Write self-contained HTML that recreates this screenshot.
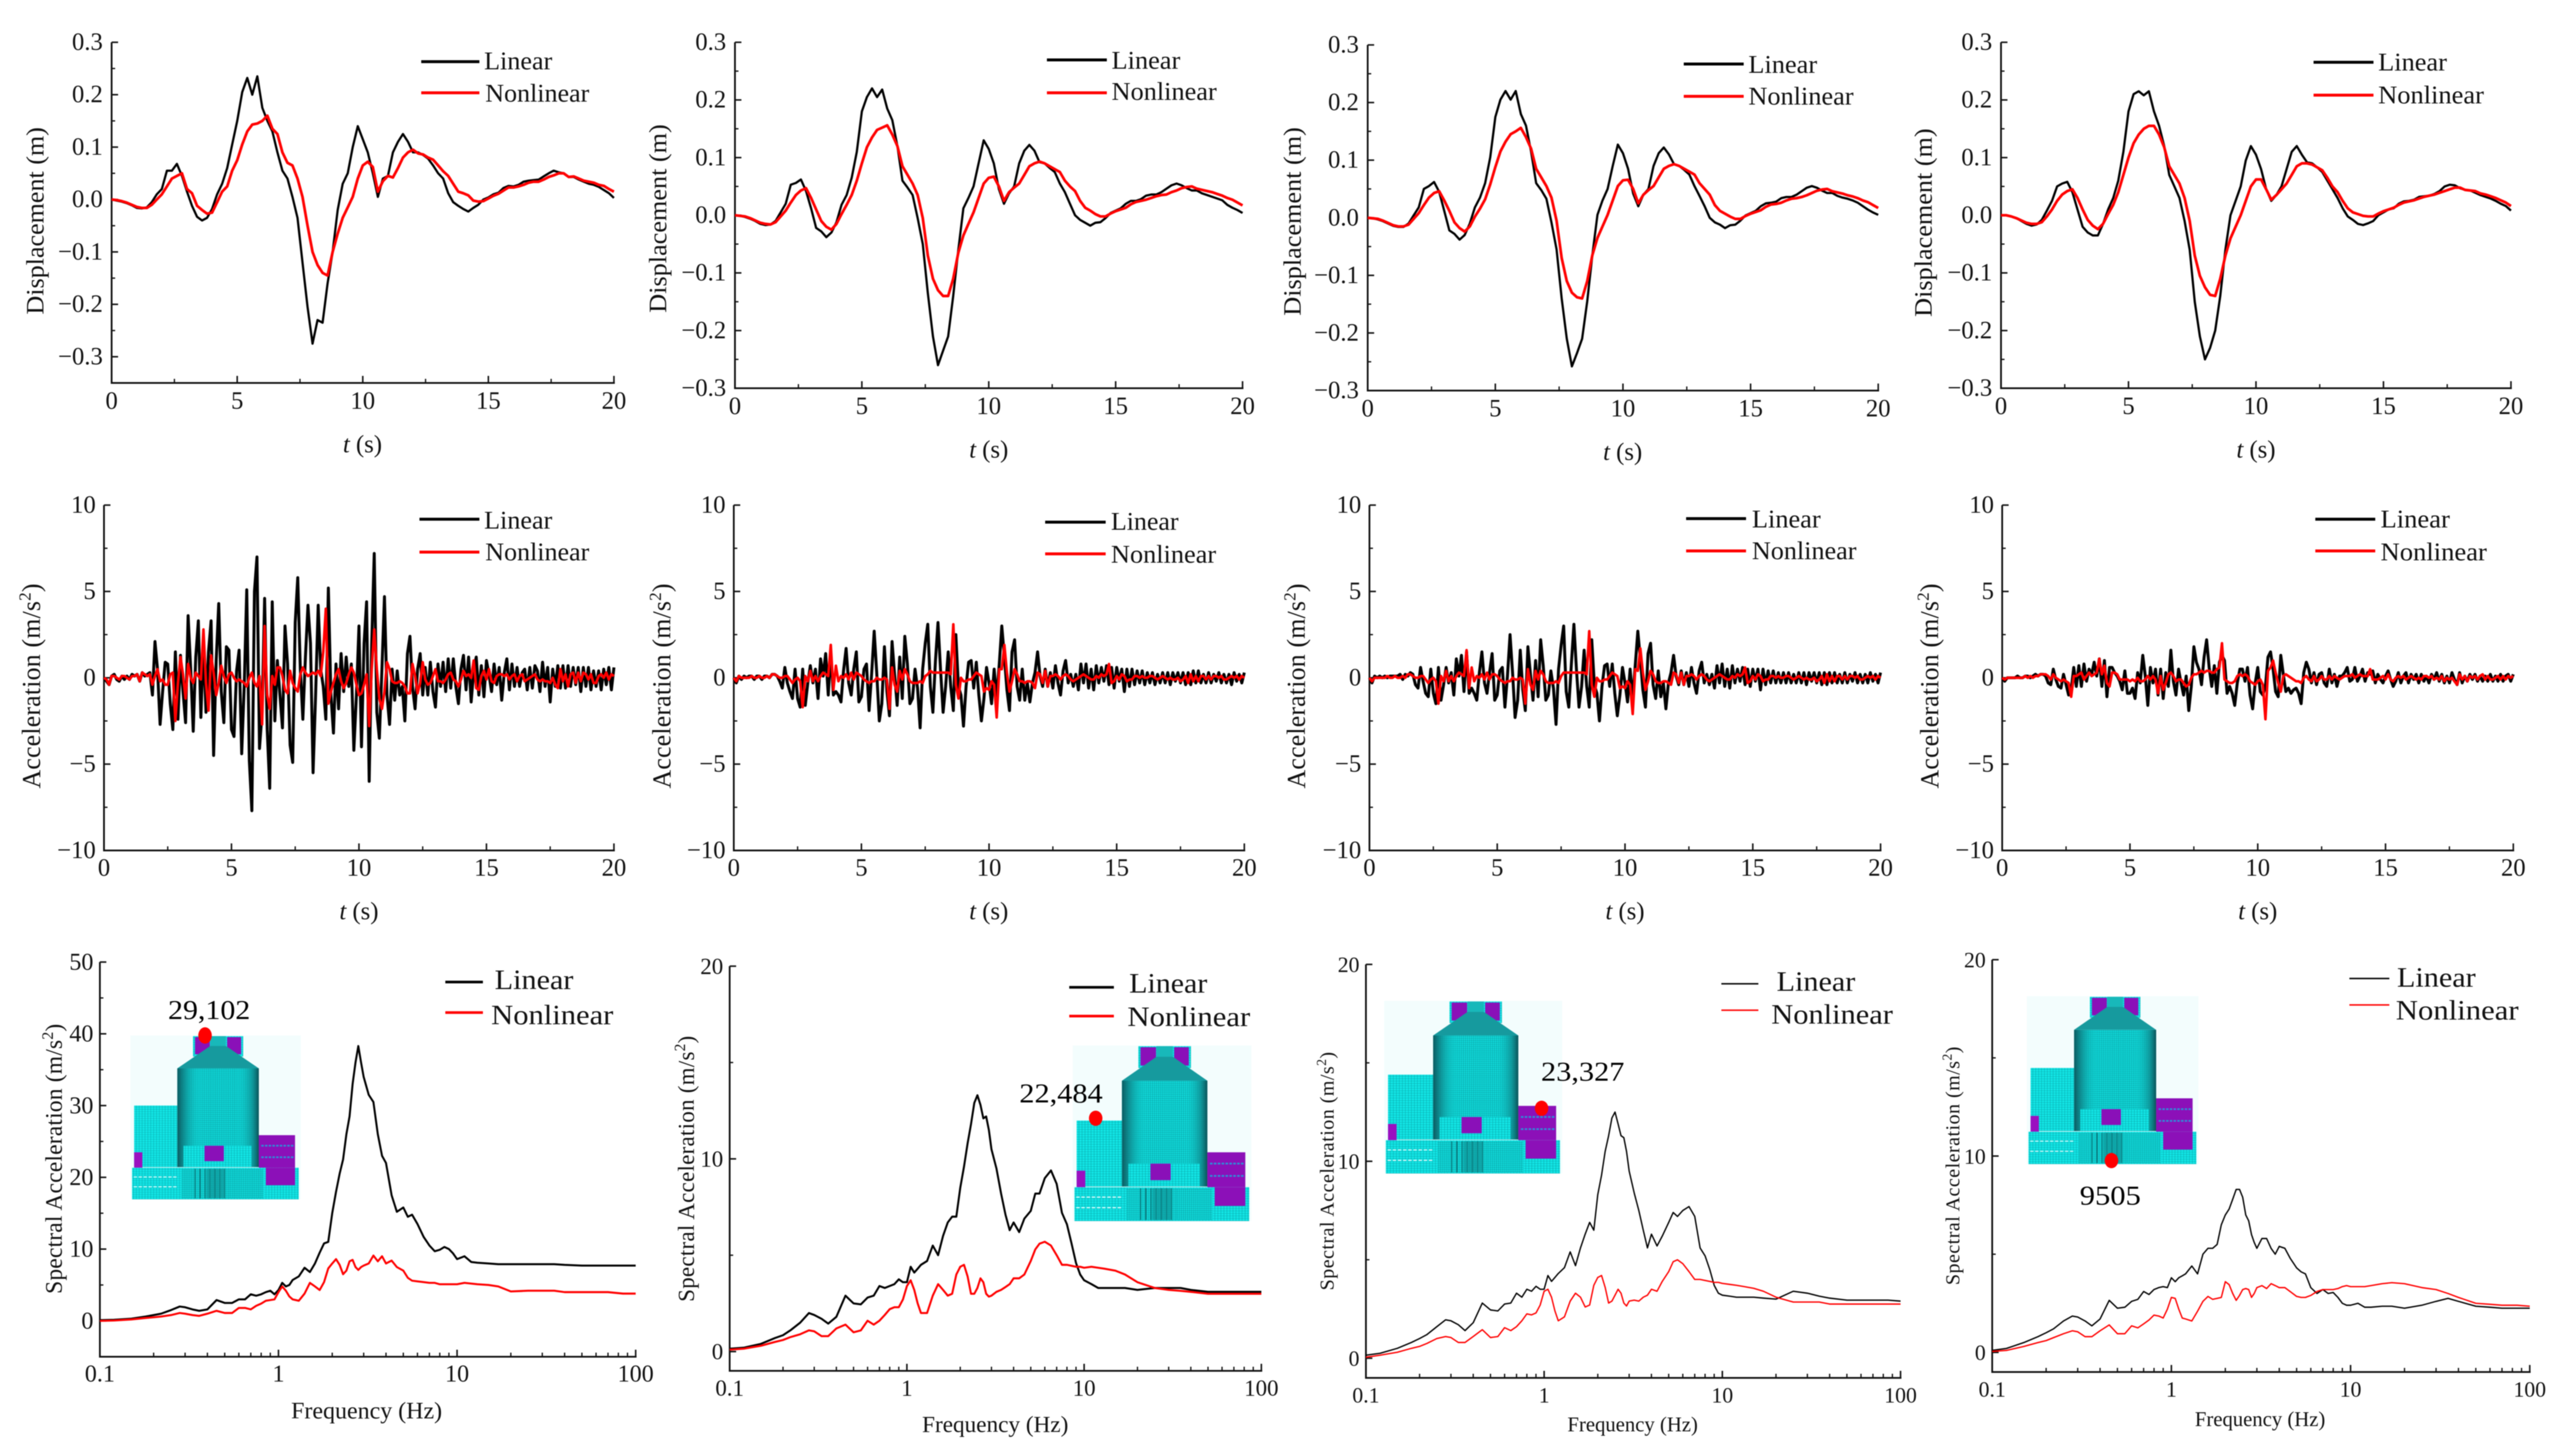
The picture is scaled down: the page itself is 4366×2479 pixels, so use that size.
<!DOCTYPE html>
<html lang="en">
<head>
<meta charset="utf-8">
<title>Linear and nonlinear seismic response comparison</title>
<style>
html,body{margin:0;padding:0;background:#fff;}
svg{display:block;filter:blur(0.8px);}
text{font-family:"Liberation Serif",serif;fill:#111;}
.lg{font-size:43px;}
.yt{font-size:42px;}
.xt{font-size:42px;text-anchor:middle;}
.ann{font-size:47px;text-anchor:middle;fill:#000;}
</style>
</head>
<body>
<svg id="figure" xmlns="http://www.w3.org/2000/svg" width="4366" height="2479" viewBox="0 0 4366 2479">
<defs>
  <pattern id="mesh" width="7" height="7" patternUnits="userSpaceOnUse">
    <rect width="7" height="7" fill="#12e6e6"/>
    <path d="M0 0H7M0 0V7" stroke="#079a9e" stroke-width="1.5"/>
  </pattern>
  <pattern id="meshFine" width="4.5" height="6" patternUnits="userSpaceOnUse">
    <rect width="4.5" height="6" fill="#10dede"/>
    <path d="M0 0H4.5M0 0V6" stroke="#07797e" stroke-width="1.3"/>
  </pattern>
  <linearGradient id="towerShade" x1="0" x2="1" y1="0" y2="0">
    <stop offset="0" stop-color="#0a5a60"/>
    <stop offset="0.1" stop-color="#0e8a8e" stop-opacity=".75"/>
    <stop offset="0.3" stop-color="#10dada" stop-opacity="0"/>
    <stop offset="0.72" stop-color="#10dada" stop-opacity="0"/>
    <stop offset="0.92" stop-color="#0e8a8e" stop-opacity=".75"/>
    <stop offset="1" stop-color="#0a5258"/>
  </linearGradient>
  <pattern id="stripes" width="12" height="10" patternUnits="userSpaceOnUse">
    <rect width="12" height="10" fill="none"/>
    <path d="M1 0V10" stroke="#087074" stroke-width="3"/>
  </pattern>
  <symbol id="structure" viewBox="0 0 414 498" preserveAspectRatio="none">
    <rect width="414" height="498" fill="#f3fdfd"/>
    <rect x="152" y="2" width="122" height="62" fill="url(#mesh)"/>
    <rect x="157" y="5" width="36" height="52" fill="#8a10b8"/>
    <rect x="235" y="5" width="34" height="52" fill="#8a10b8"/>
    <rect x="194" y="2" width="38" height="32" fill="#18b8ba"/>
    <polygon points="114,100 194,32 232,32 312,100" fill="#169a9e"/>
    <rect x="114" y="100" width="198" height="300" fill="url(#meshFine)"/>
    <rect x="114" y="100" width="198" height="300" fill="url(#towerShade)"/>
    <rect x="9" y="213" width="105" height="187" fill="url(#mesh)"/>
    <rect x="9" y="355" width="20" height="47" fill="#9a10c0"/>
    <rect x="312" y="303" width="88" height="99" fill="#8c10b8"/>
    <path d="M318 335H396M318 370H396" stroke="#2c8fd8" stroke-width="5" stroke-dasharray="6 3"/>
    <rect x="129" y="335" width="165" height="65" fill="url(#mesh)"/>
    <rect x="180" y="335" width="47" height="47" fill="#8a10b8"/>
    <rect x="4" y="402" width="405" height="96" fill="url(#mesh)"/>
    <rect x="329" y="402" width="71" height="53" fill="#8c10b8"/>
    <rect x="124" y="405" width="200" height="90" fill="url(#meshFine)"/>
    <rect x="150" y="405" width="90" height="90" fill="url(#stripes)"/>
    <rect x="185" y="405" width="45" height="90" fill="#0e8f92" opacity=".6"/>
    <path d="M8 430H114M8 460H114" stroke="#e8ffff" stroke-width="3" stroke-dasharray="8 4"/>
  </symbol>
</defs>
<rect width="4366" height="2479" fill="#fff"/>

<!-- Row 1 -->
<g id="panel-r1c1">
  <text class="yt" transform="translate(74,376) rotate(-90)" text-anchor="middle" textLength="319" lengthAdjust="spacingAndGlyphs">Displacement (m)</text>
  <text class="xt" x="617" y="770"><tspan font-style="italic">t</tspan> (s)</text>
  <line x1="717" x2="816" y1="105" y2="105" stroke="#000" stroke-width="5"/>
  <line x1="717" x2="816" y1="158" y2="158" stroke="#f00" stroke-width="5"/>
  <text class="lg" x="824" y="118" textLength="116" lengthAdjust="spacingAndGlyphs">Linear</text>
  <text class="lg" x="826" y="173" textLength="177" lengthAdjust="spacingAndGlyphs">Nonlinear</text>
</g>
<g id="panel-r1c2">
  <text class="yt" transform="translate(1134,372) rotate(-90)" text-anchor="middle" textLength="321" lengthAdjust="spacingAndGlyphs">Displacement (m)</text>
  <text class="xt" x="1683" y="779"><tspan font-style="italic">t</tspan> (s)</text>
  <line x1="1782" x2="1884" y1="102" y2="102" stroke="#000" stroke-width="5"/>
  <line x1="1782" x2="1884" y1="158" y2="158" stroke="#f00" stroke-width="5"/>
  <text class="lg" x="1892" y="117" textLength="117" lengthAdjust="spacingAndGlyphs">Linear</text>
  <text class="lg" x="1892" y="170" textLength="179" lengthAdjust="spacingAndGlyphs">Nonlinear</text>
</g>
<g id="panel-r1c3">
  <text class="yt" transform="translate(2214,377) rotate(-90)" text-anchor="middle" textLength="321" lengthAdjust="spacingAndGlyphs">Displacement (m)</text>
  <text class="xt" x="2762" y="783"><tspan font-style="italic">t</tspan> (s)</text>
  <line x1="2866" x2="2968" y1="109" y2="109" stroke="#000" stroke-width="5"/>
  <line x1="2866" x2="2968" y1="164" y2="164" stroke="#f00" stroke-width="5"/>
  <text class="lg" x="2976" y="124" textLength="117" lengthAdjust="spacingAndGlyphs">Linear</text>
  <text class="lg" x="2976" y="178" textLength="179" lengthAdjust="spacingAndGlyphs">Nonlinear</text>
</g>
<g id="panel-r1c4">
  <text class="yt" transform="translate(3288,379) rotate(-90)" text-anchor="middle" textLength="321" lengthAdjust="spacingAndGlyphs">Displacement (m)</text>
  <text class="xt" x="3840" y="779"><tspan font-style="italic">t</tspan> (s)</text>
  <line x1="3938" x2="4040" y1="106" y2="106" stroke="#000" stroke-width="5"/>
  <line x1="3938" x2="4040" y1="162" y2="162" stroke="#f00" stroke-width="5"/>
  <text class="lg" x="4048" y="120" textLength="117" lengthAdjust="spacingAndGlyphs">Linear</text>
  <text class="lg" x="4048" y="176" textLength="180" lengthAdjust="spacingAndGlyphs">Nonlinear</text>
</g>

<!-- Row 2 -->
<g id="panel-r2c1">
  <text class="yt" transform="translate(68,1168) rotate(-90)" text-anchor="middle" textLength="349" lengthAdjust="spacing" style="font-size:44px">Acceleration (m/s<tspan font-size="29" dy="-16">2</tspan><tspan dy="16">)</tspan></text>
  <text class="xt" x="611" y="1565"><tspan font-style="italic">t</tspan> (s)</text>
  <line x1="714" x2="816" y1="884" y2="884" stroke="#000" stroke-width="5"/>
  <line x1="714" x2="816" y1="940" y2="940" stroke="#f00" stroke-width="5"/>
  <text class="lg" x="824" y="900" textLength="116" lengthAdjust="spacingAndGlyphs">Linear</text>
  <text class="lg" x="826" y="954" textLength="177" lengthAdjust="spacingAndGlyphs">Nonlinear</text>
</g>
<g id="panel-r2c2">
  <text class="yt" transform="translate(1141,1168) rotate(-90)" text-anchor="middle" textLength="349" lengthAdjust="spacing" style="font-size:44px">Acceleration (m/s<tspan font-size="29" dy="-16">2</tspan><tspan dy="16">)</tspan></text>
  <text class="xt" x="1683" y="1565"><tspan font-style="italic">t</tspan> (s)</text>
  <line x1="1779" x2="1882" y1="889" y2="889" stroke="#000" stroke-width="5"/>
  <line x1="1779" x2="1882" y1="943" y2="943" stroke="#f00" stroke-width="5"/>
  <text class="lg" x="1891" y="902" textLength="115" lengthAdjust="spacingAndGlyphs">Linear</text>
  <text class="lg" x="1891" y="958" textLength="179" lengthAdjust="spacingAndGlyphs">Nonlinear</text>
</g>
<g id="panel-r2c3">
  <text class="yt" transform="translate(2221,1168) rotate(-90)" text-anchor="middle" textLength="349" lengthAdjust="spacing" style="font-size:44px">Acceleration (m/s<tspan font-size="29" dy="-16">2</tspan><tspan dy="16">)</tspan></text>
  <text class="xt" x="2766" y="1565"><tspan font-style="italic">t</tspan> (s)</text>
  <line x1="2870" x2="2972" y1="883" y2="883" stroke="#000" stroke-width="5"/>
  <line x1="2870" x2="2972" y1="938" y2="938" stroke="#f00" stroke-width="5"/>
  <text class="lg" x="2982" y="898" textLength="117" lengthAdjust="spacingAndGlyphs">Linear</text>
  <text class="lg" x="2982" y="952" textLength="178" lengthAdjust="spacingAndGlyphs">Nonlinear</text>
</g>
<g id="panel-r2c4">
  <text class="yt" transform="translate(3299,1168) rotate(-90)" text-anchor="middle" textLength="349" lengthAdjust="spacing" style="font-size:44px">Acceleration (m/s<tspan font-size="29" dy="-16">2</tspan><tspan dy="16">)</tspan></text>
  <text class="xt" x="3843" y="1565"><tspan font-style="italic">t</tspan> (s)</text>
  <line x1="3941" x2="4043" y1="884" y2="884" stroke="#000" stroke-width="5"/>
  <line x1="3941" x2="4043" y1="938" y2="938" stroke="#f00" stroke-width="5"/>
  <text class="lg" x="4052" y="898" textLength="118" lengthAdjust="spacingAndGlyphs">Linear</text>
  <text class="lg" x="4052" y="954" textLength="181" lengthAdjust="spacingAndGlyphs">Nonlinear</text>
</g>

<!-- Row 3 -->
<g id="panel-r3c1">
  <text font-size="40" transform="translate(105,1973) rotate(-90)" text-anchor="middle" textLength="460" lengthAdjust="spacing">Spectral Acceleration (m/s<tspan font-size="27" dy="-15">2</tspan><tspan dy="15">)</tspan></text>
  <text class="xt" font-size="40" x="624" y="2415" textLength="257" lengthAdjust="spacingAndGlyphs" style="font-size:40px">Frequency (Hz)</text>
  <line x1="758" x2="822" y1="1672" y2="1672" stroke="#000" stroke-width="4.5"/>
  <line x1="758" x2="822" y1="1724" y2="1724" stroke="#f00" stroke-width="4.5"/>
  <text font-size="48" x="842" y="1684" textLength="134" lengthAdjust="spacingAndGlyphs">Linear</text>
  <text font-size="48" x="836" y="1744" textLength="208" lengthAdjust="spacingAndGlyphs">Nonlinear</text>
  <use href="#structure" x="222" y="1763" width="290" height="279"/>
  <text class="ann" x="356" y="1735" textLength="140" lengthAdjust="spacingAndGlyphs">29,102</text>
  <ellipse cx="349" cy="1763" rx="11.5" ry="14" fill="#f00"/>
</g>
<g id="panel-r3c2">
  <text font-size="39" transform="translate(1181,1990) rotate(-90)" text-anchor="middle" textLength="453" lengthAdjust="spacing">Spectral Acceleration (m/s<tspan font-size="26" dy="-15">2</tspan><tspan dy="15">)</tspan></text>
  <text class="xt" x="1694" y="2438" textLength="249" lengthAdjust="spacingAndGlyphs" style="font-size:39px">Frequency (Hz)</text>
  <line x1="1820" x2="1896" y1="1681" y2="1681" stroke="#000" stroke-width="4.5"/>
  <line x1="1820" x2="1896" y1="1730" y2="1730" stroke="#f00" stroke-width="4.5"/>
  <text font-size="48" x="1922" y="1690" textLength="133" lengthAdjust="spacingAndGlyphs">Linear</text>
  <text font-size="48" x="1919" y="1747" textLength="209" lengthAdjust="spacingAndGlyphs">Nonlinear</text>
  <use href="#structure" x="1826" y="1780" width="304" height="299"/>
  <text class="ann" x="1806" y="1877" textLength="142" lengthAdjust="spacingAndGlyphs">22,484</text>
  <ellipse cx="1865" cy="1904" rx="11.5" ry="13" fill="#f00"/>
</g>
<g id="panel-r3c3">
  <text font-size="34" transform="translate(2270,1994) rotate(-90)" text-anchor="middle" textLength="406" lengthAdjust="spacing">Spectral Acceleration (m/s<tspan font-size="23" dy="-13">2</tspan><tspan dy="13">)</tspan></text>
  <text class="xt" x="2779" y="2437" textLength="222" lengthAdjust="spacingAndGlyphs" style="font-size:36px">Frequency (Hz)</text>
  <line x1="2930" x2="2993" y1="1675" y2="1675" stroke="#000" stroke-width="2.5"/>
  <line x1="2930" x2="2993" y1="1720" y2="1720" stroke="#f00" stroke-width="2.5"/>
  <text font-size="48" x="3024" y="1687" textLength="134" lengthAdjust="spacingAndGlyphs">Linear</text>
  <text font-size="48" x="3015" y="1743" textLength="207" lengthAdjust="spacingAndGlyphs">Nonlinear</text>
  <use href="#structure" x="2356" y="1704" width="303" height="294"/>
  <text class="ann" x="2694" y="1840" textLength="142" lengthAdjust="spacingAndGlyphs">23,327</text>
  <ellipse cx="2624" cy="1887" rx="11.5" ry="13" fill="#f00"/>
</g>
<g id="panel-r3c4">
  <text font-size="34" transform="translate(3335,1985) rotate(-90)" text-anchor="middle" textLength="406" lengthAdjust="spacing">Spectral Acceleration (m/s<tspan font-size="23" dy="-13">2</tspan><tspan dy="13">)</tspan></text>
  <text class="xt" x="3847" y="2428" textLength="222" lengthAdjust="spacingAndGlyphs" style="font-size:36px">Frequency (Hz)</text>
  <line x1="3999" x2="4067" y1="1666" y2="1666" stroke="#000" stroke-width="2.5"/>
  <line x1="3999" x2="4067" y1="1711" y2="1711" stroke="#f00" stroke-width="2.5"/>
  <text font-size="48" x="4080" y="1680" textLength="134" lengthAdjust="spacingAndGlyphs">Linear</text>
  <text font-size="48" x="4078" y="1736" textLength="209" lengthAdjust="spacingAndGlyphs">Nonlinear</text>
  <use href="#structure" x="3450" y="1696" width="292" height="286"/>
  <text class="ann" x="3592" y="2051" textLength="104" lengthAdjust="spacingAndGlyphs">9505</text>
  <ellipse cx="3594" cy="1976" rx="11.5" ry="13" fill="#f00"/>
</g>
</svg>

<script>
// ---- Tick values and labels ----
const timeTicks = [0, 5, 10, 15, 20];
const timeTickLabels = ['0', '5', '10', '15', '20'];
const timeMinorTicks = [2.5, 7.5, 12.5, 17.5];
const dispTicks = [-0.3, -0.2, -0.1, 0, 0.1, 0.2, 0.3];
const dispTickLabels = ['\u22120.3', '\u22120.2', '\u22120.1', '0.0', '0.1', '0.2', '0.3'];
const dispMinorTicks = [-0.25, -0.15, -0.05, 0.05, 0.15, 0.25];
const accTicks = [-10, -5, 0, 5, 10];
const accTickLabels = ['\u221210', '\u22125', '0', '5', '10'];
const accMinorTicks = [-7.5, -2.5, 2.5, 7.5];
const specTicksWide = [0, 10, 20, 30, 40, 50];
const specTickLabelsWide = ['0', '10', '20', '30', '40', '50'];
const specMinorWide = [5, 15, 25, 35, 45];
const specTicks = [0, 10, 20];
const specTickLabels = ['0', '10', '20'];
const specMinor = [5, 15];
const freqTicks = [0.1, 1, 10, 100];
const freqTickLabels = ['0.1', '1', '10', '100'];
const freqMinorTicks = [0.2, 0.3, 0.4, 0.5, 0.6, 0.7, 0.8, 0.9, 2, 3, 4, 5, 6, 7, 8, 9, 20, 30, 40, 50, 60, 70, 80, 90];

// ---- Displacement (m), sampled every dispStep seconds, 10 samples per row ----
const dispStep = 0.2;
const disp1Linear = [
0,-.002,-.004,-.007,-.011,-.016,-.017,-.015,-.005,.01,
.02,.055,.055,.068,.045,.015,-.012,-.033,-.04,-.035,
-.018,.01,.03,.06,.105,.15,.205,.232,.2,.235,
.175,.15,.13,.09,.055,.04,.005,-.035,-.12,-.205,
-.275,-.23,-.235,-.16,-.1,-.02,.03,.05,.1,.14,
.115,.09,.05,.005,.04,.045,.09,.11,.125,.11,
.09,.09,.085,.078,.065,.05,.04,.012,-.005,-.012,
-.018,-.023,-.016,-.01,0,.004,.01,.013,.022,.026,
.025,.028,.034,.036,.037,.038,.044,.05,.055,.052,
.05,.043,.043,.038,.034,.03,.028,.024,.018,.012,
.003];
const disp1Nonlinear = [
0,-.001,-.003,-.006,-.01,-.014,-.016,-.016,-.01,0,
.01,.025,.04,.045,.05,.02,.012,-.012,-.02,-.027,
-.025,-.005,.015,.025,.055,.075,.105,.13,.143,.145,
.15,.16,.135,.125,.09,.07,.065,.04,.005,-.05,
-.1,-.125,-.14,-.145,-.1,-.065,-.035,-.015,.005,.04,
.065,.072,.062,.015,.035,.045,.042,.06,.08,.09,
.095,.088,.086,.08,.076,.065,.054,.045,.03,.015,
.012,.008,-.002,-.004,-.003,.002,.007,.011,.017,.023,
.023,.025,.028,.032,.034,.034,.038,.043,.046,.05,
.05,.043,.044,.04,.036,.034,.032,.028,.026,.02,
.015];
const disp2Linear = [
0,-.001,-.003,-.006,-.01,-.015,-.017,-.016,-.01,.005,
.02,.053,.056,.062,.042,.012,-.022,-.028,-.038,-.03,
-.012,.018,.035,.065,.11,.18,.205,.22,.205,.218,
.185,.165,.12,.06,.048,.035,-.005,-.05,-.135,-.21,
-.26,-.235,-.21,-.14,-.06,.012,.03,.05,.09,.13,
.115,.09,.045,.02,.038,.05,.09,.112,.122,.112,
.092,.09,.082,.075,.055,.04,.02,0,-.008,-.013,
-.018,-.013,-.012,-.005,.004,.008,.012,.02,.025,.025,
.028,.034,.036,.036,.04,.046,.052,.055,.052,.047,
.043,.043,.038,.035,.032,.029,.026,.018,.013,.009,
.004];
const disp2Nonlinear = [
0,-.001,-.002,-.005,-.009,-.013,-.015,-.016,-.012,-.002,
.008,.022,.035,.043,.047,.03,.01,-.01,-.02,-.025,
-.015,.002,.018,.035,.06,.09,.118,.135,.148,.152,
.156,.14,.12,.085,.07,.055,.035,-.005,-.07,-.11,
-.13,-.14,-.14,-.11,-.065,-.035,-.015,.005,.03,.055,
.065,.067,.05,.025,.04,.048,.055,.07,.085,.09,
.093,.09,.085,.08,.075,.06,.05,.042,.025,.013,
.008,.002,-.002,-.002,.003,.007,.01,.013,.019,.023,
.025,.027,.03,.033,.035,.036,.04,.043,.047,.049,
.05,.046,.044,.042,.04,.037,.034,.03,.027,.022,
.017];
const disp3Linear = [
0,-.001,-.003,-.006,-.01,-.014,-.016,-.016,-.01,.004,
.018,.05,.055,.062,.045,.012,-.022,-.028,-.038,-.03,
-.01,.018,.035,.06,.105,.175,.205,.22,.205,.22,
.18,.16,.115,.06,.048,.033,-.008,-.055,-.14,-.21,
-.258,-.235,-.21,-.145,-.065,.005,.03,.05,.09,.127,
.112,.085,.042,.02,.04,.05,.09,.112,.122,.11,
.093,.09,.083,.075,.055,.038,.02,0,-.008,-.012,
-.018,-.013,-.012,-.005,.004,.008,.012,.02,.025,.026,
.028,.034,.036,.036,.04,.046,.052,.055,.052,.047,
.043,.043,.038,.035,.033,.03,.026,.02,.014,.009,
.005];
const disp3Nonlinear = [
0,-.001,-.002,-.005,-.009,-.013,-.015,-.015,-.012,-.002,
.008,.022,.035,.043,.046,.03,.012,-.008,-.018,-.024,
-.015,.002,.016,.032,.058,.088,.115,.132,.145,.15,
.156,.14,.12,.085,.07,.055,.035,-.005,-.07,-.11,
-.13,-.138,-.14,-.11,-.065,-.035,-.015,.005,.03,.055,
.065,.066,.05,.025,.04,.048,.055,.07,.085,.09,
.093,.09,.085,.08,.075,.06,.05,.04,.022,.012,
.007,.002,-.002,-.002,.003,.007,.01,.013,.019,.023,
.024,.026,.03,.033,.034,.036,.039,.043,.047,.049,
.05,.046,.044,.042,.039,.037,.034,.03,.027,.022,
.017];
const disp4Linear = [
0,0,-.002,-.005,-.01,-.015,-.018,-.016,-.008,.008,
.025,.05,.055,.058,.04,.01,-.02,-.03,-.035,-.035,
-.015,.01,.03,.06,.11,.18,.21,.215,.208,.215,
.18,.155,.12,.07,.05,.03,-.01,-.06,-.15,-.21,
-.25,-.23,-.2,-.14,-.06,0,.025,.05,.095,.12,
.105,.08,.045,.025,.035,.05,.08,.11,.12,.105,
.092,.09,.083,.075,.06,.045,.03,.012,-.002,-.008,
-.015,-.017,-.014,-.01,0,.005,.01,.012,.02,.024,
.025,.027,.032,.033,.034,.037,.042,.05,.053,.052,
.047,.044,.043,.039,.035,.032,.029,.025,.02,.016,
.008];
const disp4Nonlinear = [
0,0,-.002,-.005,-.009,-.013,-.015,-.015,-.012,-.002,
.01,.025,.036,.042,.045,.03,.01,-.008,-.018,-.024,
-.015,.002,.018,.04,.07,.1,.125,.14,.15,.155,
.155,.14,.118,.085,.07,.055,.03,-.01,-.07,-.105,
-.125,-.138,-.14,-.11,-.07,-.04,-.02,0,.025,.05,
.062,.062,.045,.027,.035,.045,.055,.07,.085,.09,
.09,.088,.083,.078,.065,.05,.04,.025,.012,.005,
.002,-.001,-.002,-.002,.003,.007,.01,.013,.018,.022,
.024,.026,.029,.032,.034,.036,.039,.042,.045,.048,
.048,.044,.043,.042,.038,.036,.033,.03,.026,.022,
.016];

// ---- Acceleration (m/s2), sampled every accStep seconds, one row per second ----
const accStep = 0.1;
const acc1Linear = [
0,-.2,-.4,.1,.2,-.1,-.2,.1,-.1,.1,
-.1,.2,.1,.2,-.2,.3,.1,.2,.3,-1,
2.1,.5,-2.7,-.8,.9,.8,-1.5,-3,1.5,-2.4,
1.3,-.8,-2.6,3.6,.5,-3.1,1.2,3.3,-2.3,2,
-2,1.5,3.3,-4.5,1,4.3,-.8,-2.6,1.8,1.6,
-3,-3.4,.4,1.6,-4.4,-.5,5.1,-4.8,-7.7,5,
7,-4.1,-2,4.6,-3,-6.4,4.4,-2.5,1,-1,
-2.9,3,.8,-3.9,-4.9,3.2,5.8,.5,-2.4,1.2,
4.2,2,-5.5,-1,4.2,.5,-.5,-2.4,5.2,-1,
-3.2,.8,-1.8,1.4,-.8,1.2,-.5,.8,-4.2,-1,
3,-4,2,4.4,-6,2,7.2,-2,-3.5,.5,
4.7,-1,-2.7,.5,-1.3,.4,-1,-.5,-2.5,1.4,
2.4,-.5,-1.8,.5,1.4,-1,.6,-1,.9,-.8,
-1.7,.8,-.5,.9,-.8,1.1,-.6,1.1,-.5,-1.5,
.5,1.3,-.7,1.2,-1.4,.4,1.2,-1,.7,-1.1,
1,.2,-.8,.8,-.4,.6,-1.3,.3,1.1,-.7,
.8,-.5,.6,-.5,.3,.5,-.7,.6,-.6,.7,
.4,-.8,.9,-.5,.6,-1.4,.5,-.5,.7,-.6,
.7,-.6,.7,-.5,.6,-.4,.6,-.8,.6,-.5,
.6,-.7,.4,-.5,.4,-.7,.5,-.4,.6,-.7,
.6];
const acc1Nonlinear = [
0,-.1,-.4,.1,.1,0,-.1,.1,.1,0,
-.1,.1,.1,.2,-.2,.3,.2,.1,.2,-.4,
.1,.5,-.2,-.1,-.4,-.4,.2,.3,-2.5,-.3,
1.2,.2,-1.2,.8,0,-.3,.3,.1,-.1,2.8,
-.3,-1.9,1.3,.3,-1,-.3,.7,.1,-.3,.2,
.3,0,-.2,-.1,-.2,-.3,-.5,0,.3,-.3,
-.5,.1,-2.7,3,-1,-1.8,.1,-.4,.6,.6,
.1,-.7,-.9,.4,-.3,-.6,-.8,.2,.6,.3,
.1,.2,.3,.2,.4,.1,1.5,4,-1.5,-.8,
-.3,.2,.5,-.2,-.6,-.3,.2,.6,.3,-.4,
-1,-.9,-.4,.2,-2.8,.5,2.8,.5,-1.2,-1.8,
-.8,.9,.5,-.2,-.3,-.3,-.2,-.3,-.5,-.9,
-.9,.8,.1,-.9,-.3,.9,-.1,-.4,-.3,.1,
.5,-.2,-.2,-.3,-.1,.2,.3,-.1,-.2,-.5,
-.1,.4,.1,.2,0,1,-.6,-.7,.1,.4,
-.1,.5,-.2,-.3,.1,.2,.2,.1,.2,-.1,
.1,.2,-.2,.1,.2,-.2,-.1,0,.1,.2,
-.1,-.2,-.1,-.2,-.2,-.3,0,-.4,-.6,.5,
-.2,.2,-.5,.2,.3,-.3,.3,-.2,.3,.2,
-.1,.2,-.3,-.3,.1,.2,0,.3,-.1,.2,
.1];
const acc2Linear = [
0,-.3,.1,-.1,.1,0,.1,.1,-.1,.1,
.1,-.1,.1,.1,0,.2,.2,.1,-.2,-.6,
.6,-.3,-.8,-1.2,.5,-1.2,-1.7,.5,-1.6,-.3,
.7,-.3,.5,-1.2,1.1,.1,1.4,-1,1.5,-1,
-.8,-1,-1.4,.4,1.7,-.3,-1,.5,1.5,-1.4,
-1.1,.5,.8,-1.9,.2,2.7,.3,-2.5,-1.5,1.8,
-.8,-2.2,2.1,.2,-1.6,1.2,-1.2,2.4,.8,-1.5,
-1.2,.5,-.6,-2.9,.5,2,3.1,-.5,-2,1,
3.2,.5,-2,-.5,1.5,-.5,-1.9,2.5,-.5,-1,
-2.8,-.5,.9,1,-.6,.9,-1,-2.5,-1.2,.6,
-.3,-1.5,.5,-1.2,.8,3,1.2,-.7,-1.9,1.5,
2.2,-.5,-1.3,.5,-1.3,-.3,-1.4,-.3,.3,1.5,
.1,-.5,.5,-.5,.3,-.6,.7,-.3,-1,.4,
1,-.3,.2,-.5,.2,-.7,.8,-.3,.8,-.6,
.5,-.7,.7,-.3,.6,-.2,.7,-.4,.6,-.6,
.6,-.2,.5,-.8,.5,-.5,.5,-.4,.4,-.3,
.4,-.4,.3,-.3,.3,-.4,.2,-.3,.3,-.3,
.3,-.4,.3,-.2,.3,-.3,.3,-.4,.3,-.4,
.4,-.3,.4,-.3,.2,-.3,.3,-.3,.2,-.2,
.3,-.3,.2,-.3,.2,-.4,.3,-.2,.2,-.3,
.3];
const acc2Nonlinear = [
0,-.2,.1,0,0,0,0,.1,0,0,
.1,0,0,.1,0,.2,.2,.1,0,0,
.1,.1,-.1,-.3,-.1,0,-.2,-1.7,.1,-.2,
.4,-.2,.1,-.2,.1,.3,.2,.1,1.9,-.7,
.7,-.2,.1,0,.2,-.1,.3,-.1,.3,.2,
.1,-.1,-.2,-.3,-.2,-.2,0,-.1,-.1,0,
-.1,-1.8,.6,-.4,-.8,.4,-.1,.5,.2,-.2,
-.3,-.3,-.3,-.2,-.3,.1,.2,.4,.3,.3,
.3,.3,.3,.3,.3,.2,3.1,-.4,-1.2,0,
-.2,-.2,-.1,-.1,.1,.3,.2,.1,-.8,-.6,
-.7,-.2,-.4,-2.3,.5,.5,1.9,.3,-.8,-.2,
.5,.2,-.2,-.2,-.3,-.2,-.2,-.3,-.6,.3,
.2,-.3,.4,-.5,.1,.1,.2,.1,-.1,.1,
.2,.1,-.1,-.2,-.1,0,.1,.2,.1,0,
-.1,-.1,.1,0,.2,.1,.2,.8,-.3,-.2,
.1,-.1,.2,.1,-.2,-.1,-.1,.1,.1,0,
.1,0,0,.1,.1,0,-.1,0,.1,0,
-.1,0,-.1,-.1,0,-.2,-.1,.1,-.3,.2,
-.2,.1,-.2,.1,.1,-.1,.1,-.1,.1,.1,
0,.1,-.1,-.1,0,.1,0,.1,-.1,.1,
0];
const acc3Linear = [
0,-.3,.1,0,.1,0,.1,0,.1,.1,
.1,.1,.2,-.1,.2,.1,.3,.2,-.4,-.6,
.6,-.2,-.9,-1.1,.5,-.9,-1.5,.6,-1.3,-.4,
.6,-.3,.3,-1,1.1,.1,1.3,-.8,1.5,-.9,
-.6,-.9,-1.3,.3,1.5,-.3,-.9,.3,1.4,-1.3,
-1,.4,.6,-1.7,.1,2.5,.3,-2.3,-1.3,1.6,
-.7,-1.9,1.8,.2,-1.3,1,-1.1,2.2,.7,-1.3,
-1,.4,-.6,-2.7,.5,1.9,3,-.8,-1.7,.8,
3.1,.5,-1.7,-.5,1.6,-.5,-1.7,2.2,-.4,-.9,
-2.5,-.5,.7,.8,-.5,.8,-.9,-2.2,-1,.6,
-.3,-1.4,.5,-1.2,.7,2.7,1.1,-.7,-1.7,1.4,
2,-.4,-1.2,.4,-1.1,-.3,-1.8,-.3,.3,1.3,
.1,-.4,.4,-.4,.3,-.5,.6,-.3,-.9,.4,
.9,-.3,.2,-.4,.2,-.6,.7,-.3,.8,-.5,
.5,-.6,.7,-.3,.5,-.2,.6,-.4,.5,-.5,
.5,-.2,.5,-.7,.5,-.4,.4,-.3,.4,-.3,
.3,-.3,.3,-.3,.3,-.3,.2,-.3,.3,-.3,
.3,-.4,.3,-.2,.3,-.3,.3,-.4,.3,-.4,
.3,-.3,.3,-.3,.2,-.3,.3,-.3,.2,-.2,
.3,-.3,.2,-.3,.2,-.3,.3,-.2,.2,-.3,
.3];
const acc3Nonlinear = [
0,-.2,0,0,0,0,0,.1,0,0,
.1,0,0,.1,0,.2,.2,.1,0,0,
.1,.1,-.1,-.3,-.1,0,-.2,-1.5,.1,-.2,
.4,-.2,.1,-.2,.1,.3,.2,.1,1.6,-.6,
.6,-.2,.1,0,.2,-.1,.3,-.1,.2,.2,
.1,-.1,-.2,-.3,-.2,-.2,0,-.1,-.1,0,
-.1,-1.5,.5,-.4,-.7,.4,-.1,.4,.2,-.2,
-.3,-.3,-.3,-.2,-.3,.1,.3,.3,.3,.3,
.3,.3,.3,.3,.3,.2,2.7,-.4,-1.1,0,
-.2,-.2,-.1,-.1,.1,.3,.2,.1,-.6,-.5,
-.6,-.2,-.4,-2.1,.5,.4,1.7,.3,-.7,-.2,
.4,.2,-.2,-.3,-.3,-.2,-.2,-.3,-.4,.3,
.2,-.3,.3,-.4,.1,.1,.2,.1,-.1,.1,
.2,.1,-.1,-.2,-.1,0,.1,.2,.1,0,
-.1,-.1,.1,0,.2,.1,.2,.6,-.3,-.2,
.1,-.1,.2,.1,-.2,-.1,-.1,.1,.1,0,
.1,0,0,.1,.1,0,-.1,0,.1,0,
-.1,0,-.1,-.1,0,-.2,-.1,.1,-.3,.2,
-.2,.1,-.2,.1,.1,-.1,.1,-.1,.1,.1,
0,.1,-.1,-.1,0,.1,0,.1,-.1,.1,
0];
const acc4Linear = [
0,-.2,0,0,0,0,.1,0,0,.1,
.1,0,.1,.2,.1,.2,.2,.1,-.3,-.4,
.5,-.1,-.5,-.6,.2,-.4,-1,-.7,.6,-.5,
.7,-.5,.8,-.2,.5,.2,.9,.1,1.1,-.5,
1,-1.1,.6,.6,.3,.1,-.2,-.7,.4,-.9,
-.9,-.6,-1.2,.3,-.3,1.3,.1,-1.6,.6,-.3,
.5,-1,.5,-1.2,.3,-.5,1.6,-.2,-1,.5,
-.3,-1,.1,-1.9,-.5,1.8,.9,.5,-.4,1.2,
2.2,.6,-.5,.7,-.9,.9,1.3,1,-.9,-.5,
-.9,-1.6,-.3,.5,.5,-.2,.6,-1,-1.8,-.3,
.6,-.8,-1,-.5,1.2,1.5,.5,-.8,-1.1,1.3,
.2,-.8,-.6,-.9,-.7,-.6,-.9,-1.5,.3,.9,
.5,-.3,.3,-.4,.2,.3,-.3,-.5,.5,-.3,
.2,-.5,.1,.1,.3,.6,-.2,-.1,.6,-.2,
.1,.5,-.2,.3,.2,.4,-.3,.2,-.1,-.3,
.1,.4,-.1,-.5,-.2,.3,-.3,.1,.3,-.3,
.2,-.1,.2,-.3,.2,-.2,.1,-.3,.2,-.1,
.3,-.2,.2,-.3,.1,-.3,.3,-.1,-.4,.3,
-.3,.1,-.2,.2,-.1,.2,-.2,.1,-.2,.1,
-.2,.2,-.2,.1,-.2,.2,-.2,.1,.2,-.2,
.2];
const acc4Nonlinear = [
0,-.1,0,0,0,0,0,0,0,.1,
0,.1,0,.1,.1,.2,.2,.2,.1,-.1,
.2,0,-.1,-.2,-.1,-.2,-.3,-1.1,.1,.1,
.2,.3,-.1,.1,.3,.1,.2,.3,1.1,.2,
.7,-.3,-.5,.3,.3,.2,-.1,-.1,-.1,-.1,
-.2,-.1,-.2,0,-.2,-.2,-.1,.1,-.1,.1,
-.1,-.9,.1,-.7,-.3,.2,.3,.1,-.2,-.1,
-.1,-.3,-.5,-.4,0,.2,.2,.3,.4,.3,
.4,.4,.3,.3,.5,.6,2,-.1,-.2,-.3,
-.3,-.2,.1,.2,.1,.2,.1,-.2,-.3,-.4,
-.2,-.1,-.4,-2.4,.4,.6,1,.3,-.3,-.8,
.1,.2,.1,0,-.1,-.2,-.2,-.3,0,.1,
-.1,-.2,.1,-.2,-.1,.1,-.1,-.1,.1,-.1,
.1,0,-.1,0,.1,.1,.1,.2,0,.1,
.2,.1,.1,.1,.5,-.1,-.1,-.1,0,.1,
-.1,.2,-.1,-.2,0,.1,0,.1,-.1,0,
.1,0,-.1,0,-.1,.1,.1,0,.1,-.1,
0,-.1,.1,-.2,0,-.1,0,-.2,-.4,.2,
-.1,.1,-.2,.1,0,.1,-.1,.1,.2,-.1,
.1,-.1,-.1,0,.1,-.1,.1,-.1,.1,0,
.1];

// ---- Response spectra: frequency grid (Hz) and spectral acceleration (m/s2) ----
const freq = [
.1,.12,.15,.18,.2,.22,.25,.28,.3,.33,.36,.4,
.45,.5,.55,.6,.65,.7,.75,.8,.85,.9,.95,1,
1.05,1.1,1.15,1.2,1.3,1.4,1.5,1.6,1.7,1.8,1.9,2,
2.1,2.2,2.3,2.4,2.5,2.6,2.7,2.8,2.9,3,3.2,3.4,
3.6,3.8,4,4.3,4.6,5,5.3,5.6,6,6.5,7,7.5,
8,8.5,9,9.5,10,11,12,13,15,17,20,25,
30,35,40,50,60,70,85,100];
const spec1Linear = [
.1,.15,.3,.6,.8,1,1.5,2,1.9,1.6,1.4,1.6,
2.9,2.5,2.5,3,3,3.7,3.5,3.7,4,4.2,3.7,4.3,
5.3,4.8,5,5.7,6.2,7.4,6.8,8,9.5,10.8,11,15,
18,20.5,22.5,26,28.5,33,36,38.3,36,34,31.5,30.5,
26,23,22,17.5,15.2,15.8,14.5,14.8,13.5,11.7,10.5,9.7,
9.9,10.3,10,9.4,8.6,9,8.2,8.1,8,7.9,7.9,7.9,
7.9,7.9,7.8,7.7,7.7,7.7,7.7,7.7];
const spec1Nonlinear = [
0,.05,.2,.4,.5,.6,.8,1.1,1,.8,.7,1,
1.4,1.1,1.1,1.8,1.8,1.6,2.1,2.4,2.8,2.9,3,4,
4.8,4.2,3.4,3,2.8,3.8,5.3,4.8,4.3,5.4,7.3,8,
8.6,7.8,6.5,7,8.3,8.5,7.5,7.1,7.5,7.7,8,9.1,
8.3,9,8,8.4,7.5,7,6,5.6,5.5,5.4,5.3,5.3,
5.1,5.1,5.1,5.1,5.1,5.3,5.2,5.1,5,4.8,4.1,4.2,
4.2,4.2,4,4,4,4,3.8,3.8];
const spec2Linear = [
.15,.2,.4,.7,.85,1.1,1.5,2,1.9,1.7,1.45,1.8,
2.9,2.5,2.45,2.8,2.9,3.4,3.3,3.4,3.5,3.75,3.6,3.6,
4.4,4.1,4.3,4.5,4.7,5.5,5,6,6.7,7,7,8.5,
9.6,10.8,11.8,12.9,13.3,12.8,12.1,12.2,11.5,10.5,9.5,8.2,
7.1,6.3,6.7,6.2,6.9,7.3,8.2,8.2,9,9.4,8.7,7.2,
6.6,5.6,4.6,4,3.7,3.5,3.3,3.3,3.3,3.3,3.2,3.3,
3.3,3.3,3.2,3.1,3.1,3.1,3.1,3.1];
const spec2Nonlinear = [
.1,.15,.3,.5,.6,.75,.9,1.1,1.05,.8,.8,1.2,
1.4,1,1.1,1.6,1.4,1.6,1.9,2.2,2.3,2.3,2.7,3.4,
3.7,3.2,2.5,2,2,2.9,3.5,3.2,2.9,3,4,4.4,
4.5,3.9,3,3,3.3,3.8,3.6,3,2.85,2.9,3.1,3.2,
3.35,3.5,3.8,3.8,4,4.7,5.3,5.6,5.7,5.5,5,4.5,
4.5,4.45,4.4,4.4,4.35,4.4,4.35,4.3,4.2,4,3.6,3.3,
3.2,3.15,3.1,3,3,3,3,3];
const spec3Linear = [
.15,.25,.5,.8,1,1.2,1.6,1.95,1.9,1.7,1.4,1.8,
2.8,2.45,2.4,2.75,2.8,3.3,3.1,3.5,3.4,3.65,3.5,3.5,
4.2,3.9,4.1,4.3,4.6,5.4,4.7,5.6,6.3,6.9,6.5,8.3,
9.3,10.5,11.3,12.2,12.5,11.9,11.3,11.2,10.5,9.5,8.4,7.5,
6.5,5.6,6.3,5.7,6.2,6.9,7.4,7.2,7.5,7.7,7.2,5.6,
5.2,4.5,3.7,3.3,3.2,3.15,3.1,3.1,3.1,3.05,3,3.4,
3.3,3.15,3.05,2.95,2.95,2.95,2.95,2.9];
const spec3Nonlinear = [
.05,.15,.3,.5,.6,.75,1,1.1,1.05,.8,.8,1.1,
1.45,1.05,1.1,1.55,1.4,1.6,1.9,2.25,2.2,2.3,2.7,3.4,
3.5,3.1,2.4,1.9,2.1,2.9,3.3,3.1,2.6,2.7,3.7,4.1,
4.2,3.6,2.8,2.9,3.2,3.5,3.3,2.8,2.65,2.9,2.95,2.9,
3.1,3.2,3.5,3.4,3.9,4.4,4.9,5,4.8,4.4,4,4,
3.95,3.9,3.85,3.85,3.8,3.75,3.7,3.65,3.55,3.4,3.1,2.85,
2.85,2.85,2.75,2.75,2.75,2.75,2.75,2.75];
const spec4Linear = [
.1,.2,.5,.8,1,1.2,1.6,1.85,1.8,1.6,1.35,1.7,
2.65,2.25,2.3,2.6,2.7,3.1,2.95,3.2,3.3,3.35,3.3,3.8,
3.6,3.8,3.9,4,4.4,4,5,5.3,5.3,5.5,6.5,7,
7.3,7.8,8.3,8.3,7.9,7,6.7,6,5.6,5.3,5.8,5.8,
5.3,5,5.4,5.3,4.8,4.3,4.1,4,3.3,3,3.2,3,
3.05,2.8,2.5,2.4,2.4,2.5,2.3,2.3,2.35,2.35,2.25,2.4,
2.6,2.75,2.6,2.35,2.3,2.25,2.25,2.25];
const spec4Nonlinear = [
.05,.1,.3,.5,.6,.75,.95,1.1,1.05,.8,.8,1.1,
1.4,.95,.95,1.35,1.25,1.45,1.65,1.9,1.85,1.75,2.2,2.8,
2.75,2.2,1.75,1.7,1.6,2.1,2.6,2.85,2.7,2.75,2.8,3.6,
3.45,3,2.65,2.9,3.2,3.25,3.2,2.8,3,3.3,3.4,3.25,
3.5,3.4,3.3,3.3,3.1,2.85,2.8,2.8,2.9,3.1,3.2,3.2,
3.2,3.25,3.35,3.4,3.35,3.35,3.35,3.4,3.5,3.55,3.5,3.3,
3.2,3,2.8,2.5,2.45,2.4,2.4,2.35];

// ---- Axis functions ----
function linearScale(domain0, domain1, px0, px1) {
  return function (v) { return px0 + (v - domain0) / (domain1 - domain0) * (px1 - px0); };
}
function logScale(domain0, domain1, px0, px1) {
  const a = Math.log10(domain0), b = Math.log10(domain1);
  return function (v) { return px0 + (Math.log10(v) - a) / (b - a) * (px1 - px0); };
}
const svgNS = 'http://www.w3.org/2000/svg';
function make(tag, attrs, parent) {
  const el = document.createElementNS(svgNS, tag);
  for (const k in attrs) el.setAttribute(k, attrs[k]);
  parent.appendChild(el);
  return el;
}
function drawAxes(g, c) {
  const xs = c.x, ys = c.y;
  const xAxis = make('line', {x1: c.x0 - 1.5, x2: c.x1 + 1.5, y1: c.yBot, y2: c.yBot, stroke: '#111', 'stroke-width': 3}, g);
  
  
  const yAxis = make('line', {x1: c.x0, x2: c.x0, y1: c.yTop, y2: c.yBot, stroke: '#111', 'stroke-width': 3}, g);
  
  
  c.xTicks.forEach(function (v, i) {
    const px = xs(v);
    const t = make('line', {x1: px, x2: px, y1: c.yBot, y2: c.yBot - 12, stroke: '#111', 'stroke-width': 2.6}, g);
    
    
    const lab = make('text', {x: px, y: c.yBot + c.xLabelOffset, 'text-anchor': 'middle', 'font-size': c.tickFont}, g);
    
    
    lab.textContent = c.xLabels[i];
  });
  c.xMinor.forEach(function (v) {
    const px = xs(v);
    const t = make('line', {x1: px, x2: px, y1: c.yBot, y2: c.yBot - 7, stroke: '#111', 'stroke-width': 2.2}, g);
    
    
  });
  c.yTicks.forEach(function (v, i) {
    const py = ys(v);
    const t = make('line', {x1: c.x0, x2: c.x0 + 11, y1: py, y2: py, stroke: '#111', 'stroke-width': 2.6}, g);
    
    
    const lab = make('text', {x: c.x0 - c.yLabelGap, y: py + 13, 'text-anchor': 'end', 'font-size': c.tickFont}, g);
    
    
    lab.textContent = c.yLabels[i];
  });
  c.yMinor.forEach(function (v) {
    const py = ys(v);
    const t = make('line', {x1: c.x0, x2: c.x0 + 6, y1: py, y2: py, stroke: '#111', 'stroke-width': 2.2}, g);
    
    
  });
}
function drawLine(g, xValues, yValues, c, color, width, name) {
  const pts = yValues.map(function (v, i) { return c.x(xValues(i)).toFixed(1) + ',' + c.y(v).toFixed(1); }).join(' ');
  const el = make('polyline', {points: pts, fill: 'none', stroke: color, 'stroke-width': width, 'stroke-linejoin': 'round'}, g);
  
  
}
function timePanel(id, box, step, linear, nonlinear, yTop, yBotVal, yTicks, yLabels, yMinor, lw, redLw, xOff, gap) {
  const c = {
    x0: box[0], x1: box[1], yTop: box[2], yBot: box[3],
    x: linearScale(0, 20, box[0], box[1]), y: linearScale(yTop, yBotVal, box[2], box[3]),
    xTicks: timeTicks, xLabels: timeTickLabels, xMinor: timeMinorTicks,
    yTicks: yTicks, yLabels: yLabels, yMinor: yMinor,
    tickFont: 42, xLabelOffset: xOff, yLabelGap: gap
  };
  const g = document.getElementById(id);
  drawAxes(g, c);
  const xv = function (i) { return i * step; };
  drawLine(g, xv, linear, c, '#000', lw, 'linear-line');
  drawLine(g, xv, nonlinear, c, '#f00', redLw, 'nonlinear-line');
}
function specPanel(id, box, topVal, botVal, linear, nonlinear, yTicks, yLabels, yMinor, lw, font) {
  const c = {
    x0: box[0], x1: box[1], yTop: box[2], yBot: box[3],
    x: logScale(0.1, 100, box[0], box[1]), y: linearScale(topVal, botVal, box[2], box[3]),
    xTicks: freqTicks, xLabels: freqTickLabels, xMinor: freqMinorTicks,
    yTicks: yTicks, yLabels: yLabels, yMinor: yMinor,
    tickFont: font, xLabelOffset: 42, yLabelGap: 11
  };
  const g = document.getElementById(id);
  drawAxes(g, c);
  const xv = function (i) { return freq[i]; };
  drawLine(g, xv, linear, c, '#000', lw, 'linear-line');
  drawLine(g, xv, nonlinear, c, '#f00', lw, 'nonlinear-line');
}

// Row 1: displacement histories
timePanel('panel-r1c1', [190, 1045, 72, 652], dispStep, disp1Linear, disp1Nonlinear, 0.3, -0.35, dispTicks, dispTickLabels, dispMinorTicks, 3.8, 4.6, 44, 15);
timePanel('panel-r1c2', [1251, 2115, 72, 661], dispStep, disp2Linear, disp2Nonlinear, 0.3, -0.3, dispTicks, dispTickLabels, dispMinorTicks, 3.8, 4.6, 44, 15);
timePanel('panel-r1c3', [2328, 3197, 76.5, 665], dispStep, disp3Linear, disp3Nonlinear, 0.3, -0.3, dispTicks, dispTickLabels, dispMinorTicks, 3.8, 4.6, 44, 15);
timePanel('panel-r1c4', [3406, 4274, 72, 661], dispStep, disp4Linear, disp4Nonlinear, 0.3, -0.3, dispTicks, dispTickLabels, dispMinorTicks, 3.8, 4.6, 44, 15);
// Row 2: acceleration histories
timePanel('panel-r2c1', [177, 1045, 860, 1448], accStep, acc1Linear, acc1Nonlinear, 10, -10, accTicks, accTickLabels, accMinorTicks, 5, 4.4, 43, 14);
timePanel('panel-r2c2', [1249, 2118, 860, 1448], accStep, acc2Linear, acc2Nonlinear, 10, -10, accTicks, accTickLabels, accMinorTicks, 5, 4.4, 43, 14);
timePanel('panel-r2c3', [2331, 3201, 860, 1448], accStep, acc3Linear, acc3Nonlinear, 10, -10, accTicks, accTickLabels, accMinorTicks, 5, 4.4, 43, 14);
timePanel('panel-r2c4', [3408, 4278, 860, 1448], accStep, acc4Linear, acc4Nonlinear, 10, -10, accTicks, accTickLabels, accMinorTicks, 5, 4.4, 43, 14);
// Row 3: spectra
specPanel('panel-r3c1', [170, 1082, 1638, 2310], 50, -5, spec1Linear, spec1Nonlinear, specTicksWide, specTickLabelsWide, specMinorWide, 3.4, 41);
specPanel('panel-r3c2', [1242, 2147, 1645, 2334], 20, -1, spec2Linear, spec2Nonlinear, specTicks, specTickLabels, specMinor, 3.4, 39);
specPanel('panel-r3c3', [2325, 3235, 1642, 2346], 20, -1, spec3Linear, spec3Nonlinear, specTicks, specTickLabels, specMinor, 2.3, 37);
specPanel('panel-r3c4', [3391, 4306, 1634, 2336], 20, -1, spec4Linear, spec4Nonlinear, specTicks, specTickLabels, specMinor, 2.3, 37);
</script>
</body>
</html>
